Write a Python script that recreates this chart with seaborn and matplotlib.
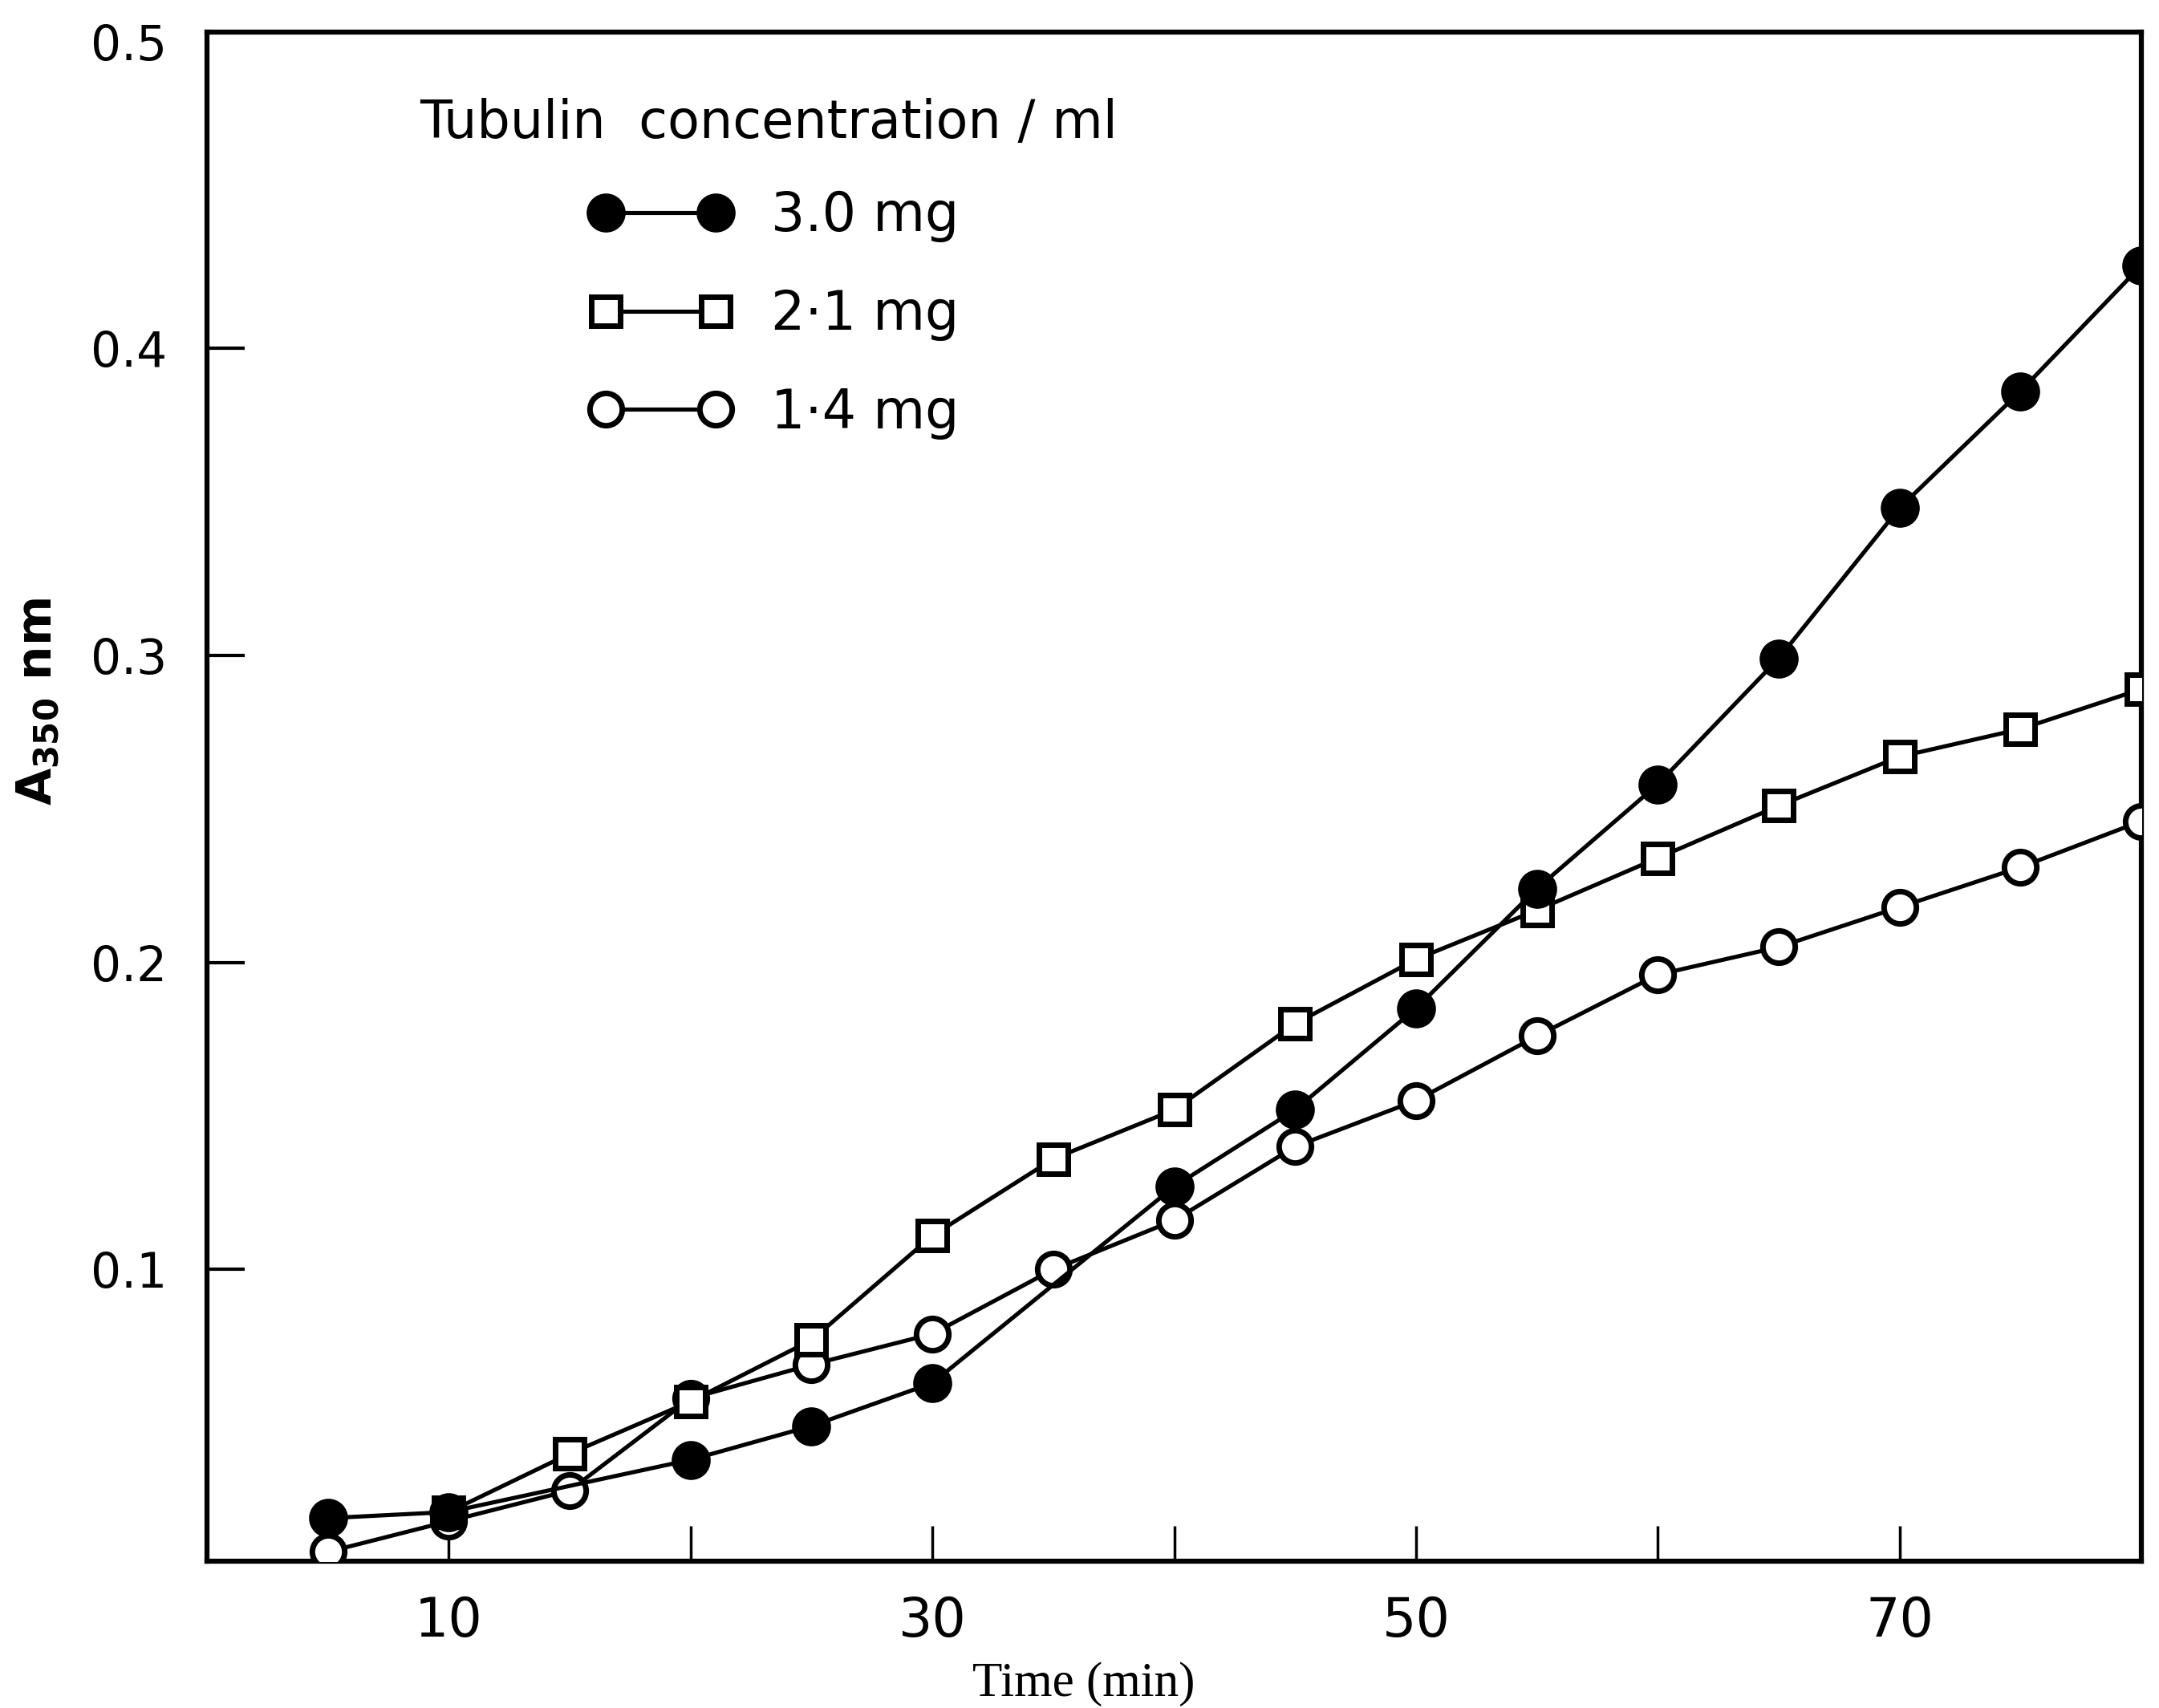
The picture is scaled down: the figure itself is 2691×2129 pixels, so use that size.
import matplotlib
matplotlib.use("Agg")
import matplotlib.pyplot as plt
from matplotlib.lines import Line2D
from matplotlib import font_manager
import seaborn as sns

# Turbidity (A350) during tubulin assembly, three protein concentrations
time_30mg = [5, 10, 20, 25, 30, 40, 45, 50, 55, 60, 65, 70, 75, 80]
a350_30mg = [0.019, 0.021, 0.038, 0.049, 0.063, 0.127, 0.152, 0.185, 0.224,
             0.258, 0.299, 0.348, 0.386, 0.427]

time_21mg = [10, 15, 20, 25, 30, 35, 40, 45, 50, 55, 60, 65, 70, 75, 80]
a350_21mg = [0.021, 0.040, 0.057, 0.077, 0.111, 0.136, 0.152, 0.180, 0.201,
             0.217, 0.234, 0.251, 0.267, 0.276, 0.289]

time_14mg = [5, 10, 15, 20, 25, 30, 35, 40, 45, 50, 55, 60, 65, 70, 75, 80]
a350_14mg = [0.008, 0.018, 0.028, 0.058, 0.069, 0.079, 0.100, 0.116, 0.140,
             0.155, 0.176, 0.196, 0.205, 0.218, 0.231, 0.246]

series_labels = ["3.0 mg", "2·1 mg", "1·4 mg"]
legend_title = "Tubulin  concentration / ml"

x_ticks = [10, 20, 30, 40, 50, 60, 70]
x_ticklabels = ["10", "", "30", "", "50", "", "70"]
y_ticks = [0.1, 0.2, 0.3, 0.4, 0.5]
y_ticklabels = ["0.1", "0.2", "0.3", "0.4", "0.5"]

sns.set_theme(style="white")
plt.rcParams["font.family"] = ["DejaVu Sans"]
plt.rcParams["text.color"] = "black"
plt.rcParams["axes.labelcolor"] = "black"
plt.rcParams["xtick.color"] = "black"
plt.rcParams["ytick.color"] = "black"

fig = plt.figure(figsize=(26.91, 21.29), dpi=100)
fig.patch.set_facecolor("white")
ax = fig.add_axes([0.0959, 0.0860, 0.9918 - 0.0959, 0.9812 - 0.0860])
ax.set_facecolor("white")

line_w = 3.7
edge_w = 5.0
marker_styles = {
    "3.0 mg": dict(marker="o", markersize=30, markerfacecolor="black"),
    "2·1 mg": dict(marker="s", markersize=26, markerfacecolor="white"),
    "1·4 mg": dict(marker="o", markersize=29, markerfacecolor="white"),
}

series = [
    ("1·4 mg", time_14mg, a350_14mg, 3),
    ("2·1 mg", time_21mg, a350_21mg, 4),
    ("3.0 mg", time_30mg, a350_30mg, 5),
]
for name, t, a, z in series:
    sns.lineplot(x=t, y=a, ax=ax, color="black", linewidth=line_w,
                 markeredgecolor="black", markeredgewidth=edge_w,
                 errorbar=None, legend=False, zorder=z,
                 **marker_styles[name])

ax.set_xlim(0, 80)
ax.set_ylim(0.005, 0.503)

ax.set_xticks(x_ticks)
ax.set_xticklabels(x_ticklabels)
ax.set_yticks(y_ticks)
ax.set_yticklabels(y_ticklabels)

ax.tick_params(axis="both", direction="in", color="black", labelcolor="black",
               left=True, bottom=True, right=False, top=False)
ax.tick_params(axis="y", length=34, width=3, pad=36, labelsize=43)
ax.tick_params(axis="x", length=32, width=2.5, pad=30, labelsize=48)
# the top value sits on the frame itself, so it carries no tick mark
ax.yaxis.get_major_ticks()[-1].tick1line.set_visible(False)

narrow = "Liberation Sans Narrow"
available = {f.name for f in font_manager.fontManager.ttflist}
xtick_family = narrow if narrow in available else "DejaVu Sans"
for lbl in ax.get_xticklabels():
    lbl.set_family(xtick_family)

for spine in ax.spines.values():
    spine.set_visible(True)
    spine.set_linewidth(4.5)
    spine.set_color("black")
ax.grid(False)

ax.set_ylabel(r"A$_{\mathbf{350}}$ nm", fontweight="bold", fontsize=43,
              color="black")
ax.yaxis.set_label_coords(-0.075, 0.562)
ax.set_xlabel("Time (min)", family=["Liberation Serif", "DejaVu Serif"],
              fontsize=44, color="black")
ax.xaxis.set_label_coords(0.453, -0.066)

# Legend: heading as free text, entries as a frameless legend beneath it
ax.text(0.110, 0.940, legend_title, transform=ax.transAxes, fontsize=47,
        ha="left", va="center", color="black")

handles = [
    Line2D([], [], color="black", linewidth=line_w, markeredgecolor="black",
           markeredgewidth=edge_w, **marker_styles[name])
    for name in series_labels
]
leg = ax.legend(handles, series_labels, loc="upper left",
                bbox_to_anchor=(0.1979, 0.897), frameon=False, numpoints=2,
                handlelength=2.65, handletextpad=0.73, labelspacing=0.85,
                borderpad=0, borderaxespad=0, fontsize=48)
for txt in leg.get_texts():
    txt.set_color("black")

fig.savefig("out.png", dpi=100, facecolor="white")
